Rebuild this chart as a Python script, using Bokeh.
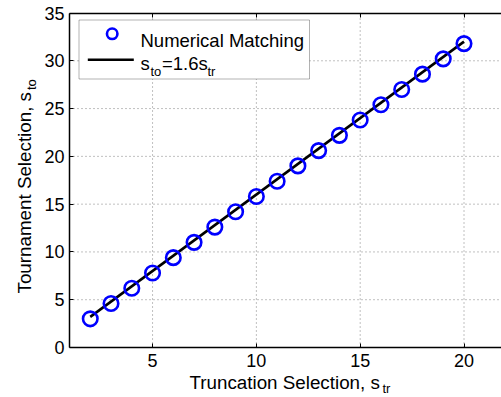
import math
from bokeh.plotting import figure
from bokeh.models import LinearAxis, FixedTicker, Range1d, Label, BoxAnnotation
from bokeh.embed import file_html
from bokeh.resources import INLINE

# ---- data ----
s_tr = [2, 3, 4, 5, 6, 7, 8, 9, 10, 11, 12, 13, 14, 15, 16, 17, 18, 19, 20]
s_to_numerical = [3.0, 4.6, 6.2, 7.8, 9.4, 11.0, 12.6, 14.2, 15.8, 17.4, 19.0,
                  20.6, 22.2, 23.8, 25.4, 27.0, 28.6, 30.2, 31.8]
fit_x = [2, 20]
fit_y = [3.2, 32.0]
x_ticks = [5, 10, 15, 20]
y_ticks = [0, 5, 10, 15, 20, 25, 30, 35]
x_min = 1
y_min, y_max = 0, 35

legend_labels = ["Numerical Matching", "s", "to", "=1.6s", "tr"]
x_label = ["Truncation Selection, s", "tr"]
y_label = ["Tournament Selection, s", "to"]

FONT = "Liberation Sans"

# ---- layout (canvas pixels) ----
W, H = 501, 397
BOX_LEFT_PX = 69.0          # x = x_min
X20_PX = 463.5              # x = 20
BOX_BOTTOM_PX = 347.0       # y = 0
BOX_TOP_PX = 12.5           # y = 35
PXU = (X20_PX - BOX_LEFT_PX) / (20 - x_min)
PYU = (BOX_BOTTOM_PX - BOX_TOP_PX) / (y_max - y_min)
X_START = x_min - BOX_LEFT_PX / PXU
X_END = X_START + W / PXU
Y_END = y_max + BOX_TOP_PX / PYU
Y_START = Y_END - H / PYU


def dx(px):
    return X_START + px / PXU


def dy(py):
    return Y_END - py / PYU


p = figure(width=W, height=H, min_border=0,
           x_range=Range1d(X_START, X_END), y_range=Range1d(Y_START, Y_END),
           output_backend="svg", toolbar_location=None,
           x_axis_location=None, y_axis_location=None)
p.outline_line_color = None
p.background_fill_color = "white"
p.border_fill_color = "white"
p.grid.visible = False


def style_axis(ax, ticks, labels=True):
    ax.ticker = FixedTicker(ticks=ticks)
    ax.minor_tick_line_color = None
    ax.major_tick_in = 4
    ax.major_tick_out = 0
    ax.major_tick_line_color = "black"
    ax.major_tick_line_width = 1
    ax.axis_line_color = "black"
    ax.axis_line_width = 1.5
    ax.major_label_text_font = FONT
    ax.major_label_text_font_size = "18px"
    ax.major_label_text_color = "black" if labels else None
    ax.major_label_standoff = 6


xaxis = LinearAxis(fixed_location=y_min, bounds=(x_min, X_END))
style_axis(xaxis, x_ticks)
p.add_layout(xaxis, "below")

yaxis = LinearAxis(fixed_location=x_min, bounds=(y_min, y_max))
style_axis(yaxis, y_ticks)
yaxis.major_label_standoff = 5
p.add_layout(yaxis, "left")

topaxis = LinearAxis(fixed_location=y_max, bounds=(x_min, X_END))
style_axis(topaxis, x_ticks, labels=False)
p.add_layout(topaxis, "above")

# dotted grid inside the axes box
inner_y = [t for t in y_ticks if y_min < t < y_max]
g1 = p.segment(x0=x_ticks, y0=[y_min] * len(x_ticks), x1=x_ticks, y1=[y_max] * len(x_ticks),
               line_color="#808080", line_dash="1 3", line_width=1)
g2 = p.segment(x0=[x_min] * len(inner_y), y0=inner_y, x1=[X_END] * len(inner_y), y1=inner_y,
               line_color="#808080", line_dash="1 3", line_width=1)
g1.level = "image"
g2.level = "image"

# data
p.line(fit_x, fit_y, line_color="black", line_width=2.6)
p.scatter(s_tr, s_to_numerical, marker="circle", size=14.5,
          fill_color=None, line_color="#0000FF", line_width=2.6)

# ---- legend (manual) ----
box = BoxAnnotation(left=dx(78.5), right=dx(309), top=dy(19.5), bottom=dy(78.5),
                    fill_color="white", fill_alpha=1.0,
                    line_color="black", line_width=1, level="underlay")
p.add_layout(box)

p.scatter([dx(111.7)], [dy(33.3)], marker="circle", size=10.5,
          fill_color=None, line_color="#0000FF", line_width=2.6)
p.line([dx(87.3), dx(133.3)], [dy(59.3), dy(59.3)], line_color="black", line_width=2.6)

LEG = "18.5px"
TITLE = "18.8px"
SUB = "13px"


def add_label(text, px, py, size, angle=0.0):
    p.add_layout(Label(x=dx(px), y=dy(py), text=text, text_font=FONT,
                       text_font_size=size, text_color="black",
                       text_align="left", text_baseline="alphabetic",
                       angle=angle))


add_label(legend_labels[0], 140, 40, LEG)
add_label(legend_labels[1], 140, 63.3, LEG)
add_label(legend_labels[2], 150, 71, SUB)
add_label(legend_labels[3], 161.5, 63.3, LEG)
add_label(legend_labels[4], 207, 71, SUB)

# axis titles (kept inside the visible canvas area)
add_label(x_label[0], 189, 381.5, TITLE)
add_label(x_label[1], 382, 387.5, SUB)
add_label(y_label[0], 24, 293, TITLE, angle=math.pi / 2)
add_label(y_label[1], 31, 89.5, SUB, angle=math.pi / 2)

open("out.html", "w").write(file_html(p, INLINE))
